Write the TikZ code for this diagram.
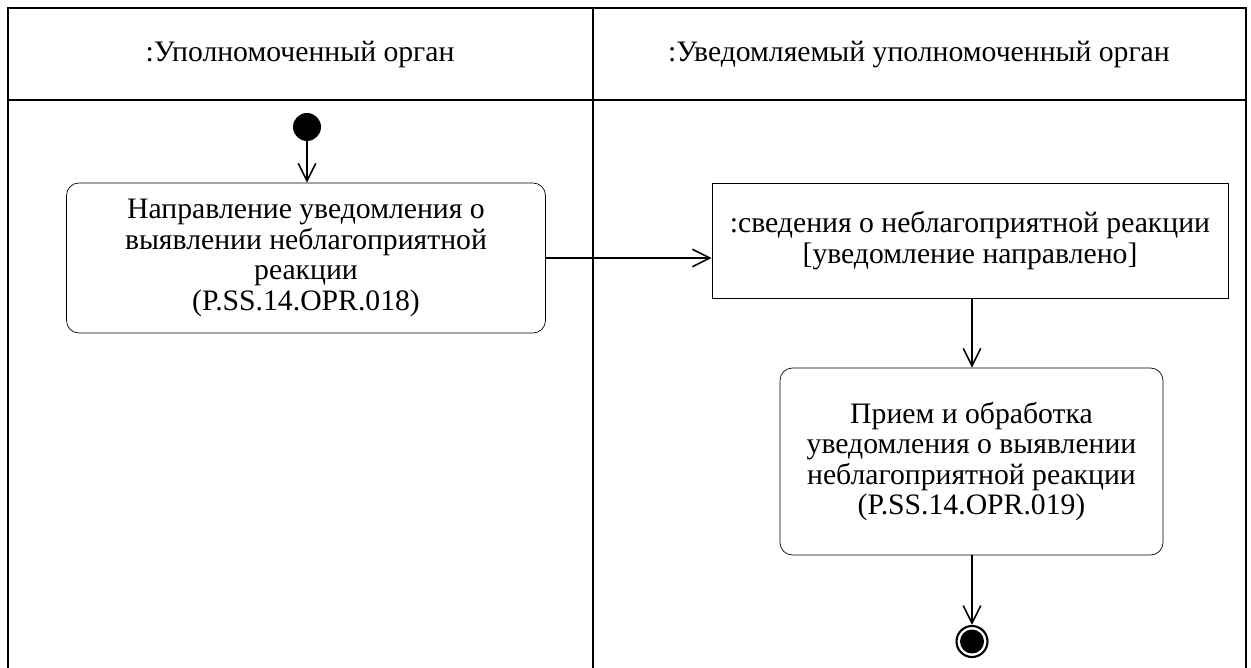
\documentclass[tikz,border=0pt]{standalone}
\usepackage{fontspec}
\setmainfont{Liberation Serif}
\usetikzlibrary{arrows.meta}
\tikzset{ act/.style = { rectangle
                       , draw
                       , rounded corners = 7pt
                       , align        = center
                       , inner sep    = 0pt
                       , font         = \fontsize{16.9}{17.3}\selectfont
                       },
            obj/.style = { rectangle
            , draw
            , align        = center
            , inner sep    = 0pt
            , font         = \fontsize{16.9}{17.3}\selectfont
            },
            flow/.style = { draw
            , line width = 0.9pt
            , -{Straight Barb[length=10pt, width=10pt, line width=0.9pt]}
            }
          }

\begin{document}
\begin{tikzpicture}[x=0.02cm, y=-0.02cm]
            \useasboundingbox (0,0) rectangle (1251,668);
            % swimlanes
            \draw[line width=1.2pt] (8,700) -- (8,8) -- (1246,8) -- (1246,700);
            \draw[line width=1.1pt] (593,8) -- (593,700);
            \draw[line width=0.9pt] (8,100) -- (1246,100);
            \node[font=\fontsize{16.9}{17.3}\selectfont] (lane1) at (300,55) {:Уполномоченный орган};
            \node[font=\fontsize{16.9}{17.3}\selectfont] (lane2) at (919,55) {:Уведомляемый уполномоченный орган};
            % nodes
            \node[circle, fill, inner sep=0pt, minimum size=0.56cm] (start) at (307,127) {};
            \node[act, minimum width=9.58cm, minimum height=3cm] (send) at (306,258)
                {Направление уведомления о\\выявлении неблагоприятной\\реакции\\(P.SS.14.OPR.018)};
            \node[obj, minimum width=10.32cm, minimum height=2.3cm] (info) at (970,240.5)
                {:сведения о неблагоприятной реакции\\{[}уведомление направлено{]}};
            \node[act, minimum width=7.66cm, minimum height=3.74cm] (recv) at (971.5,461.5)
                {Прием и обработка\\уведомления о выявлении\\неблагоприятной реакции\\(P.SS.14.OPR.019)};
            \node[circle, draw, line width=1.2pt, inner sep=0pt, minimum size=0.62cm] (end) at (972,641.5) {};
            \node[circle, fill, inner sep=0pt, minimum size=0.48cm] at (end) {};
            % flows
            \draw[flow] (start) -- (start |- send.north);
            \draw[flow] (send.east) -- (send.east -| info.west);
            \draw[flow] (info.south -| end) -- (recv.north -| end);
            \draw[flow] (recv.south -| end) -- (end);
\end{tikzpicture}
\end{document}
